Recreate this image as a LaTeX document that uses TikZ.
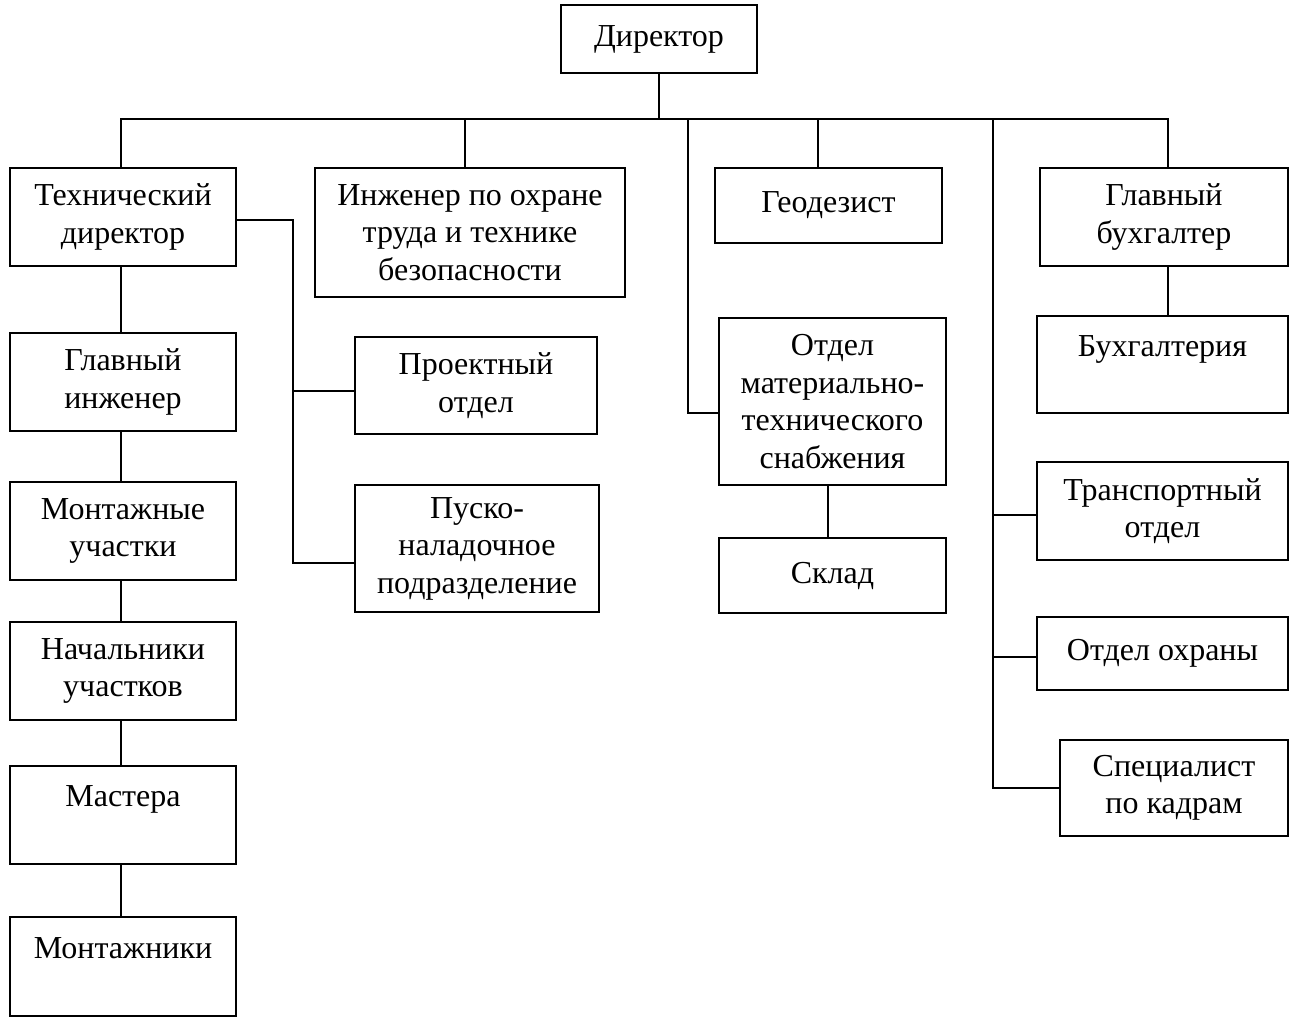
\documentclass[tikz,border=0pt]{standalone}
\usepackage{fontspec}
\setmainfont{Liberation Serif}
\usetikzlibrary{calc}
\begin{document}
\begin{tikzpicture}[x=1pt,y=-1pt,
  box/.style={draw,line width=1.6pt,align=center,inner sep=0pt,
    font=\fontsize{32}{37.5}\selectfont},
  conn/.style={line width=1.6pt}]
\useasboundingbox (0,0) rectangle (1296,1018);
% top
\node[box,minimum width=196pt,minimum height=68pt] (dir) at (659,39) {Директор};
\node[box,minimum width=226pt,minimum height=98pt] (tech) at (123,217) {Технический\\директор};
\node[box,minimum width=310pt,minimum height=129pt] (ing) at (470,232.5) {Инженер по охране\\труда и технике\\безопасности};
\node[box,minimum width=227pt,minimum height=75pt] (geo) at (828.5,205.5) {Геодезист};
\node[box,minimum width=248pt,minimum height=98pt] (gb) at (1164,217) {Главный\\бухгалтер};
% left column
\node[box,minimum width=226pt,minimum height=98pt] (gi) at (123,382) {Главный\\инженер};
\node[box,minimum width=226pt,minimum height=98pt] (mu) at (123,531) {Монтажные\\участки};
\node[box,minimum width=226pt,minimum height=98pt] (nu) at (123,671) {Начальники\\участков};
\node[box,minimum width=226pt,minimum height=98pt] (ma) at (123,815) {Мастера\\\mbox{}};
\node[box,minimum width=226pt,minimum height=99pt] (mo) at (123,966.5) {Монтажники\\\mbox{}};
% tech branch
\node[box,minimum width=242pt,minimum height=97pt] (proj) at (476,385.5) {Проектный\\отдел};
\node[box,minimum width=244pt,minimum height=127pt] (pusk) at (477,548.5) {Пуско-\\наладочное\\подразделение};
% middle
\node[box,minimum width=227pt,minimum height=167pt] (mts) at (832.5,401.5) {Отдел\\материально-\\технического\\снабжения};
\node[box,minimum width=227pt,minimum height=75pt] (sklad) at (832.5,575.5) {Склад};
% right
\node[box,minimum width=251pt,minimum height=97pt] (buh) at (1162.5,364.5) {Бухгалтерия\\\mbox{}};
\node[box,minimum width=251pt,minimum height=98pt] (tr) at (1162.5,511) {Транспортный\\отдел};
\node[box,minimum width=251pt,minimum height=73pt] (oh) at (1162.5,653.5) {Отдел охраны};
\node[box,minimum width=228pt,minimum height=96pt] (sk) at (1174,788) {Специалист\\по кадрам};
% connectors
\coordinate (bus) at (659,120);
\coordinate (b1) at (688,120);
\coordinate (b2) at (993,120);
\coordinate (c1) at (293,220);
\draw[conn] (dir.south) -- (bus);
\draw[conn] ($(tech.north)+(-2,0)$) -- ($(tech.north)+(-2,-48)$) -| ($(gb.north)+(4,0)$);
\draw[conn] ($(ing.north)+(-5,0)$) -- ($(ing.north)+(-5,-48)$);
\draw[conn] ($(geo.north)+(-10.5,0)$) -- ($(geo.north)+(-10.5,-48)$);
\draw[conn] (b1) |- ($(mts.west)+(0,11.5)$);
\draw[conn] (b2) |- (sk.west);
\draw[conn] ($(tr.west)+(0,4)$) -- ($(tr.west)+(-44,4)$);
\draw[conn] ($(oh.west)+(0,3.5)$) -- ($(oh.west)+(-44,3.5)$);
\draw[conn] ($(mts.south)+(-4.5,0)$) -- ($(sklad.north)+(-4.5,0)$);
\draw[conn] ($(gb.south)+(4,0)$) -- ($(buh.north)+(5.5,0)$);
\draw[conn] ($(tech.east)+(0,3)$) -- (c1) |- ($(pusk.west)+(0,14.5)$);
\draw[conn] ($(proj.west)+(0,5.5)$) -- ($(proj.west)+(-62,5.5)$);
\draw[conn] ($(tech.south)+(-2,0)$) -- ($(gi.north)+(-2,0)$);
\draw[conn] ($(gi.south)+(-2,0)$) -- ($(mu.north)+(-2,0)$);
\draw[conn] ($(mu.south)+(-2,0)$) -- ($(nu.north)+(-2,0)$);
\draw[conn] ($(nu.south)+(-2,0)$) -- ($(ma.north)+(-2,0)$);
\draw[conn] ($(ma.south)+(-2,0)$) -- ($(mo.north)+(-2,0)$);
\end{tikzpicture}
\end{document}
